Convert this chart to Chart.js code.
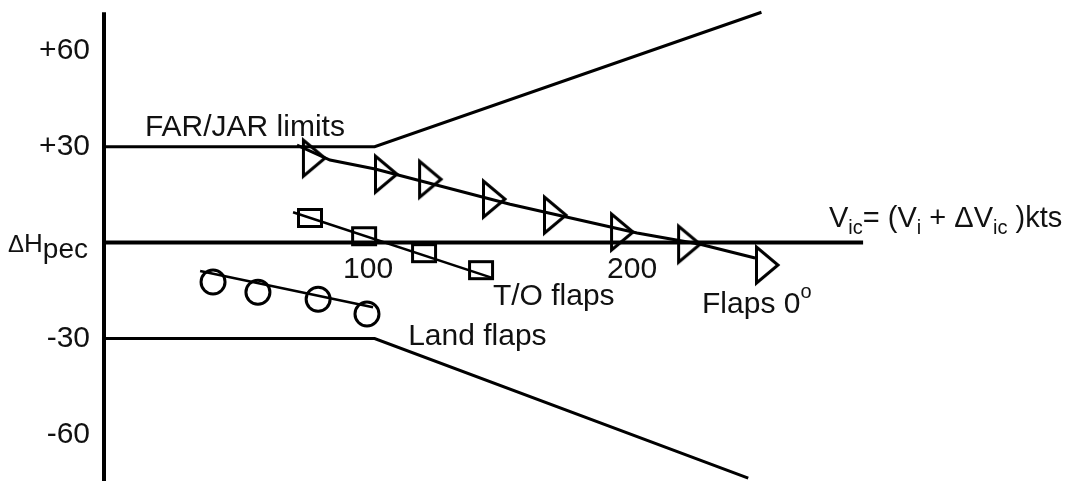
<!DOCTYPE html>
<html>
<head>
<meta charset="utf-8">
<title>Position error vs FAR/JAR limits</title>
<script src="https://cdn.jsdelivr.net/npm/chart.js@4"></script>
<style>
  html, body { margin: 0; padding: 0; background: #fff; }
  #wrap { position: relative; width: 1068px; height: 481px; }
</style>
</head>
<body>
<div id="wrap"><canvas id="pec-chart"></canvas></div>
<script>
// tick labels
const xTicks = [100, 200];
const yTicks = [60, 30, -30, -60];

// FAR/JAR limit envelope (kts, ft)
const upperLimitX = [0, 102.5, 249];
const upperLimitY = [30, 30, 72];
const lowerLimitX = [0, 102.5, 244];
const lowerLimitY = [-30, -30, -73.6];

// Flaps 0 - measured points and faired line
const flaps0Speed = [79.5, 106.8, 123.5, 147.7, 170.8, 196.2, 221.6, 251.1];
const flaps0Error = [26.4, 21.4, 19.8, 13.6, 8.6, 3.3, -0.5, -7.0];
const flaps0FitSpeed = [73.1, 85.6, 102.7, 153.8, 201.9, 225.8, 246.6];
const flaps0FitError = [30.5, 25.8, 23.0, 12.0, 3.0, -0.5, -4.8];

// T/O flaps
const toSpeed = [78.0, 98.5, 121.2, 142.8];
const toError = [7.7, 2.0, -3.3, -8.6];
const toFitSpeed = [71.6, 147.3];
const toFitError = [9.5, -11.1];

// Land flaps
const landSpeed = [41.3, 58.3, 81.1, 99.6];
const landError = [-12.3, -15.5, -17.7, -22.3];
const landFitSpeed = [36.4, 101.9];
const landFitError = [-8.9, -20.2];

// axes drawn as lines through the origin
const speedAxisX = [0, 287.5];
const speedAxisY = [0, 0];
const errorAxisX = [0, 0];
const errorAxisY = [-74.5, 72];

const pts = (xs, ys) => xs.map((v, i) => ({ x: v, y: ys[i] }));
const FONT = '"Liberation Sans", Arial, sans-serif';

// open triangle pointing right (taller than wide, like the figure)
function triangleMarker() {
    const c = document.createElement('canvas');
    c.width = 30; c.height = 46;
    const g = c.getContext('2d');
    g.lineWidth = 3;
    g.strokeStyle = '#000';
    g.beginPath();
    g.moveTo(4.5, 5);
    g.lineTo(4.5, 41);
    g.lineTo(26, 23);
    g.closePath();
    g.stroke();
    return c;
}

// open rectangle
function boxMarker() {
    const c = document.createElement('canvas');
    c.width = 28; c.height = 22;
    const g = c.getContext('2d');
    g.lineWidth = 3;
    g.strokeStyle = '#000';
    g.strokeRect(2.5, 2.5, 23, 17);
    return c;
}

function lineSet(xs, ys, width) {
    return {
        data: pts(xs, ys), showLine: true, borderColor: '#000',
        borderWidth: width, pointRadius: 0, clip: false
    };
}

function markerSet(xs, ys, style, radius) {
    return {
        data: pts(xs, ys), showLine: false, pointStyle: style,
        pointRadius: radius, pointBorderColor: '#000', pointBorderWidth: 3,
        pointBackgroundColor: 'rgba(0,0,0,0)', clip: false
    };
}

function drawRich(ctx, parts, x, base) {
    parts.forEach(p => {
        ctx.font = p.s + 'px ' + FONT;
        ctx.fillText(p.t, x, base + (p.dy || 0));
        x += ctx.measureText(p.t).width;
    });
}

const figureText = {
    id: 'figureText',
    afterDraw(chart) {
        const { ctx } = chart;
        const xs = chart.scales.x, ys = chart.scales.y;
        const y0 = ys.getPixelForValue(0);
        ctx.save();
        ctx.fillStyle = '#111';

        // y tick labels
        ctx.font = '30px ' + FONT;
        ctx.textAlign = 'right';
        ctx.textBaseline = 'middle';
        yTicks.forEach(v => {
            ctx.fillText((v > 0 ? '+' : '') + v, xs.left - 14, ys.getPixelForValue(v));
        });

        // x tick labels, under the zero line
        ctx.textAlign = 'center';
        ctx.textBaseline = 'alphabetic';
        xTicks.forEach(v => {
            ctx.fillText(String(v), xs.getPixelForValue(v), y0 + 35);
        });

        ctx.textAlign = 'left';
        ctx.fillText('FAR/JAR limits', xs.getPixelForValue(15.5), ys.getPixelForValue(33.3));
        ctx.fillText('T/O flaps', xs.getPixelForValue(147.3), ys.getPixelForValue(-19.5));
        ctx.fillText('Land flaps', xs.getPixelForValue(115.2), ys.getPixelForValue(-32.0));
        drawRich(ctx, [{ t: 'Flaps 0', s: 30 }, { t: 'o', s: 20, dy: -15 }],
            xs.getPixelForValue(226.5), ys.getPixelForValue(-22.0));

        // axis titles
        drawRich(ctx, [
            { t: 'V', s: 29 }, { t: 'ic', s: 20, dy: 7 },
            { t: '= (V', s: 29 }, { t: 'i', s: 20, dy: 7 },
            { t: ' + \u0394V', s: 29 }, { t: 'ic', s: 20, dy: 7 },
            { t: ' )kts', s: 29 }
        ], xs.right - 37, y0 - 15.5);
        drawRich(ctx, [
            { t: '\u0394', s: 24 }, { t: 'H', s: 26 }, { t: 'pec', s: 28, dy: 6 }
        ], 8, y0 + 9);

        ctx.restore();
    }
};

new Chart(document.getElementById('pec-chart'), {
    type: 'scatter',
    data: {
        datasets: [
            lineSet(errorAxisX, errorAxisY, 4),
            lineSet(speedAxisX, speedAxisY, 4),
            lineSet(upperLimitX, upperLimitY, 3),
            lineSet(lowerLimitX, lowerLimitY, 3),
            lineSet(flaps0FitSpeed, flaps0FitError, 3),
            lineSet(toFitSpeed, toFitError, 2.5),
            lineSet(landFitSpeed, landFitError, 2.5),
            markerSet(flaps0Speed, flaps0Error, triangleMarker(), 12),
            markerSet(toSpeed, toError, boxMarker(), 10),
            markerSet(landSpeed, landError, 'circle', 12)
        ]
    },
    options: {
        responsive: true,
        maintainAspectRatio: false,
        animation: false,
        events: [],
        layout: {
            autoPadding: false,
            padding: { left: 104, right: 202, top: 10, bottom: 0 }
        },
        scales: {
            x: { type: 'linear', min: 0, max: 288.6, display: false },
            y: { type: 'linear', min: -74.5, max: 72.7, display: false }
        },
        plugins: {
            legend: { display: false },
            tooltip: { enabled: false }
        }
    },
    plugins: [figureText]
});
</script>
</body>
</html>
